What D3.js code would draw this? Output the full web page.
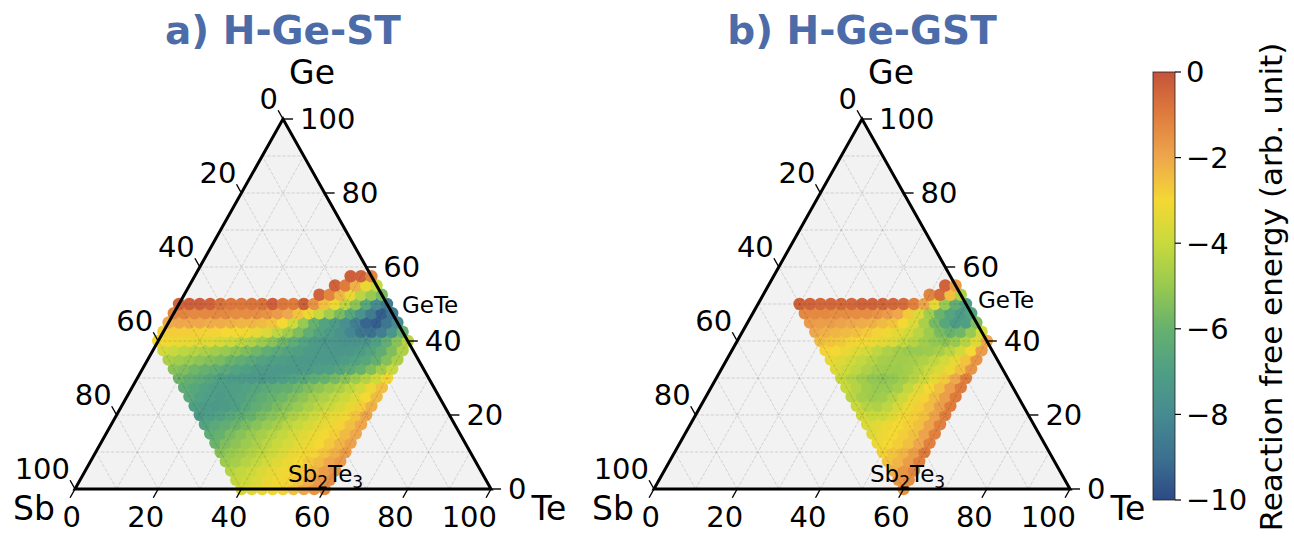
<!DOCTYPE html>
<html>
<head>
<meta charset="utf-8">
<script src="https://cdn.jsdelivr.net/npm/d3@7"></script>
<style>
  body { margin: 0; background: #fff; }
  text { font-family: "DejaVu Sans", sans-serif; }
</style>
</head>
<body>
<svg id="chart" width="1294" height="539"></svg>
<script>
// ---- axis ticks and colour map ----
const tickValues = [0, 20, 40, 60, 80, 100];
const gridValues = [10, 20, 30, 40, 50, 60, 70, 80, 90];
const cbarTicks = [0, -2, -4, -6, -8, -10];
const cmapStops = [0, -1, -2, -3, -4, -5, -6, -7, -8, -9, -10];
const cmapColors = ["#c5533b", "#df7c3d", "#eea74c", "#f4d833", "#c8d93d", "#98c950",
                    "#66b16e", "#4f9f85", "#468b91", "#3c7190", "#2c4a86"];

// ---- panel a) H-Ge-ST : one row per Ge level, Te starts at teStartA and steps by 2.5 ----
const geA = [0, 2.5, 5, 7.5, 10, 12.5, 15, 17.5, 20, 22.5, 25, 27.5, 30, 32.5, 35, 37.5, 40, 42.5, 45, 47.5, 50, 52.5, 55, 57.5];
const teStartA = [40, 37.5, 35, 32.5, 30, 27.5, 25, 22.5, 20, 17.5, 15, 12.5, 10, 7.5, 5, 2.5, 0, 0, 0, 0, 0, 32.5, 35, 37.5];
const energyA = [
  [-3.7,-3.5,-3.3,-3.1,-2.9,-2.5,-2.0,-1.6,-1.3],
  [-4.1,-3.9,-3.6,-3.3,-3.1,-2.9,-2.6,-2.1,-1.7,-1.4],
  [-4.4,-4.1,-3.9,-3.6,-3.3,-3.1,-2.9,-2.6,-2.2,-1.8,-1.5],
  [-4.9,-4.7,-4.4,-4.1,-3.8,-3.5,-3.2,-3.0,-2.7,-2.4,-2.0,-1.7],
  [-5.3,-5.0,-4.8,-4.5,-4.2,-3.9,-3.6,-3.3,-3.1,-2.9,-2.6,-2.2,-1.8],
  [-5.9,-5.5,-5.2,-4.9,-4.6,-4.3,-4.0,-3.7,-3.4,-3.2,-3.0,-2.7,-2.3,-1.9],
  [-6.3,-6.0,-5.6,-5.3,-5.0,-4.7,-4.4,-4.1,-3.8,-3.5,-3.2,-3.0,-2.8,-2.4,-2.0],
  [-6.8,-6.5,-6.2,-5.9,-5.6,-5.3,-5.0,-4.7,-4.3,-4.0,-3.7,-3.4,-3.2,-2.9,-2.5,-2.0],
  [-7.2,-7.1,-6.9,-6.6,-6.3,-6.0,-5.6,-5.3,-5.0,-4.6,-4.3,-3.9,-3.6,-3.3,-3.1,-2.6,-2.0],
  [-7.0,-7.2,-7.3,-7.2,-7.0,-6.6,-6.2,-5.9,-5.6,-5.3,-5.0,-4.6,-4.3,-4.0,-3.7,-3.3,-2.8,-2.2],
  [-6.5,-6.9,-7.1,-7.2,-7.1,-6.9,-6.6,-6.3,-6.0,-5.8,-5.5,-5.2,-4.8,-4.5,-4.2,-3.9,-3.5,-3.0,-2.4],
  [-6.3,-6.6,-6.9,-7.1,-7.1,-7.0,-6.9,-6.7,-6.5,-6.3,-6.1,-5.8,-5.5,-5.2,-4.9,-4.6,-4.2,-3.8,-3.2,-2.5],
  [-5.8,-6.1,-6.4,-6.7,-7.0,-7.2,-7.3,-7.4,-7.4,-7.3,-7.1,-6.9,-6.6,-6.3,-6.0,-5.7,-5.3,-4.9,-4.4,-3.8,-3.0],
  [-5.3,-5.5,-5.8,-6.0,-6.2,-6.5,-6.8,-7.0,-7.2,-7.3,-7.3,-7.3,-7.3,-7.2,-7.1,-7.0,-6.7,-6.4,-6.0,-5.5,-4.8,-4.0],
  [-4.6,-4.8,-5.0,-5.2,-5.4,-5.6,-5.9,-6.2,-6.5,-6.8,-7.0,-7.1,-7.2,-7.3,-7.3,-7.3,-7.3,-7.1,-6.9,-6.6,-6.1,-5.4,-4.6],
  [-3.8,-4.0,-4.2,-4.4,-4.6,-4.8,-5.0,-5.2,-5.5,-5.8,-6.2,-6.5,-6.8,-7.0,-7.2,-7.3,-7.4,-7.5,-7.4,-7.2,-6.8,-6.3,-5.5,-4.5],
  [-3.0,-3.1,-3.2,-3.3,-3.4,-3.5,-3.7,-3.9,-4.2,-4.5,-4.9,-5.3,-5.8,-6.3,-6.8,-7.2,-7.4,-7.5,-7.6,-7.6,-7.5,-7.0,-6.2,-5.3,-4.3],
  [-2.8,-2.8,-2.8,-2.8,-2.9,-2.9,-3.0,-3.0,-3.1,-3.3,-3.6,-4.2,-4.8,-5.5,-6.2,-6.8,-7.2,-7.6,-8.2,-8.8,-9.0,-8.5,-7.5,-6.0],
  [-2.0,-2.0,-2.0,-2.0,-2.1,-2.1,-2.2,-2.3,-2.3,-2.4,-2.6,-3.0,-3.8,-5.0,-6.0,-6.8,-7.2,-7.8,-8.5,-9.3,-9.5,-8.8,-8.0],
  [-1.2,-1.2,-1.3,-1.3,-1.3,-1.3,-1.4,-1.4,-1.4,-1.5,-1.7,-2.0,-2.6,-3.2,-4.0,-4.8,-5.6,-6.6,-7.6,-8.6,-9.5,-8.8],
  [-0.4,-0.3,-0.3,-0.4,-0.8,-0.9,-0.9,-0.8,-0.8,-0.3,-0.9,-1.0,-0.4,-1.5,-2.5,-3.2,-4.2,-5.2,-6.6,-8.0,-8.6],
  [-0.4,-1.2,-2.3,-3.3,-4.3,-5.0,-5.6],
  [-0.4,-1.0,-2.2,-3.3,-4.0],
  [-0.3,-0.4,-1.2]
];

// ---- panel b) H-Ge-GST ----
const geB = [0, 2.5, 5, 7.5, 10, 12.5, 15, 17.5, 20, 22.5, 25, 27.5, 30, 32.5, 35, 37.5, 40, 42.5, 45, 47.5, 50, 52.5, 55];
const teStartB = [60, 57.5, 55, 52.5, 50, 47.5, 45, 42.5, 40, 37.5, 35, 32.5, 30, 27.5, 25, 22.5, 20, 17.5, 15, 12.5, 10, 40, 42.5];
const energyB = [
  [-1.5],
  [-1.6,-1.4],
  [-2.2,-1.6,-1.2],
  [-2.6,-2.3,-1.8,-1.1],
  [-2.9,-2.6,-2.3,-1.8,-1.0],
  [-3.2,-3.0,-2.8,-2.5,-2.0,-1.1],
  [-3.5,-3.2,-3.0,-2.8,-2.5,-1.9,-1.1],
  [-3.6,-3.4,-3.2,-3.0,-2.8,-2.5,-1.9,-1.1],
  [-3.8,-4.0,-3.9,-3.5,-3.1,-2.8,-2.5,-1.9,-1.1],
  [-4.0,-4.4,-4.5,-4.2,-3.7,-3.2,-2.8,-2.4,-1.8,-1.0],
  [-4.3,-4.7,-4.9,-4.8,-4.4,-3.9,-3.3,-2.9,-2.4,-1.8,-1.0],
  [-4.0,-4.4,-4.8,-5.0,-5.0,-4.7,-4.1,-3.5,-3.0,-2.5,-1.8,-1.0],
  [-4.0,-4.4,-4.8,-5.1,-5.2,-5.1,-4.8,-4.4,-3.9,-3.3,-2.7,-2.0,-1.1],
  [-3.6,-3.9,-4.2,-4.5,-4.8,-4.9,-4.9,-4.7,-4.4,-4.0,-3.6,-3.2,-2.5,-1.6],
  [-3.3,-3.5,-3.8,-4.1,-4.4,-4.7,-4.8,-4.8,-4.7,-4.5,-4.2,-3.8,-3.3,-2.6,-1.6],
  [-2.9,-3.0,-3.2,-3.5,-3.8,-4.2,-4.5,-4.8,-5.0,-5.0,-4.9,-4.7,-4.3,-3.8,-3.0,-1.8],
  [-2.5,-2.6,-2.7,-2.9,-3.0,-3.2,-3.4,-3.6,-4.0,-4.4,-4.8,-5.1,-5.2,-5.0,-4.4,-3.5,-2.0],
  [-2.0,-2.2,-2.3,-2.4,-2.5,-2.7,-2.9,-3.1,-3.4,-3.8,-4.3,-4.9,-5.6,-6.0,-5.8,-5.0,-3.8],
  [-1.7,-1.8,-1.8,-1.9,-2.0,-2.1,-2.2,-2.4,-2.6,-3.0,-3.6,-4.6,-5.7,-6.6,-7.2,-7.0,-5.5],
  [-1.3,-1.3,-1.3,-1.4,-1.4,-1.4,-1.4,-1.5,-1.7,-2.0,-2.7,-3.6,-4.8,-5.9,-6.7,-7.2,-6.8],
  [-0.4,-0.4,-0.5,-0.5,-0.6,-0.5,-0.4,-0.4,-0.5,-0.5,-0.6,-1.1,-2.0,-3.4,-5.0,-6.2,-7.0],
  [-1.2,-0.6,-2.5,-4.5],
  [-0.4,-1.8]
];
const teStep = 2.5;

const panels = [
  { title: "a) H-Ge-ST",  left: 75,  ge: geA, te0: teStartA, energy: energyA,
    geteAt: [402, 313], sbteAt: [288, 482] },
  { title: "b) H-Ge-GST", left: 654, ge: geB, te0: teStartB, energy: energyB,
    geteAt: [978, 308], sbteAt: [870, 482] }
];

const svg = d3.select("#chart");
const colorScale = d3.scaleLinear().domain(cmapStops).range(cmapColors)
  .interpolate(d3.interpolateRgb).clamp(true);

const SIDE = 416, BASE_Y = 489, APEX_Y = 119;
const TICK = 10;
// unit vectors for the slanted tick directions
const upLeft = [-208 / 424.4, -370 / 424.4];
const downLeft = [-208 / 424.4, 370 / 424.4];

function drawPanel(p) {
  const g = svg.append("g");
  const xS = d3.scaleLinear().domain([0, 100]).range([p.left, p.left + SIDE]); // Te + Ge/2
  const yS = d3.scaleLinear().domain([0, 100]).range([BASE_Y, APEX_Y]);        // Ge
  const P = (ge, te) => [xS(te + ge / 2), yS(ge)];

  const sbV = P(0, 0), teV = P(0, 100), geV = P(100, 0);

  // plot area
  g.append("path").attr("d", d3.line()([sbV, teV, geV]) + "Z").attr("fill", "#f2f2f2");

  // scatter of compositions coloured by reaction free energy
  const pts = [];
  p.ge.forEach((ge, i) => p.energy[i].forEach((e, j) => pts.push({ ge, te: p.te0[i] + teStep * j, e })));
  g.append("g").selectAll("circle").data(pts).join("circle")
    .attr("cx", d => P(d.ge, d.te)[0])
    .attr("cy", d => P(d.ge, d.te)[1])
    .attr("r", 6.2)
    .attr("fill", d => colorScale(d.e));

  // dashed grid
  const grid = g.append("g").attr("stroke", "rgba(0,0,0,0.17)").attr("stroke-width", 0.8)
    .attr("stroke-dasharray", "3.5,1.5").attr("fill", "none");
  gridValues.forEach(v => {
    grid.append("path").attr("d", d3.line()([P(v, 0), P(v, 100 - v)]));
    grid.append("path").attr("d", d3.line()([P(0, v), P(100 - v, v)]));
    grid.append("path").attr("d", d3.line()([P(0, 100 - v), P(100 - v, 0)]));
  });

  // frame
  g.append("path").attr("d", d3.line()([sbV, teV, geV]) + "Z")
    .attr("fill", "none").attr("stroke", "#000").attr("stroke-width", 3)
    .attr("stroke-linejoin", "miter");

  const ticks = g.append("g").attr("stroke", "#000").attr("stroke-width", 1.4);
  const labels = g.append("g").attr("font-size", 29).attr("fill", "#000");

  tickValues.forEach(v => {
    // Ge axis: right edge, horizontal ticks
    const a = P(v, 100 - v);
    ticks.append("line").attr("x1", a[0]).attr("y1", a[1]).attr("x2", a[0] + TICK).attr("y2", a[1]);
    labels.append("text").attr("x", a[0] + 17).attr("y", a[1]).attr("dy", "0.36em")
      .attr("text-anchor", "start").text(v);
    // Sb axis: left edge, ticks running up-left
    const b = P(100 - v, 0);
    ticks.append("line").attr("x1", b[0]).attr("y1", b[1])
      .attr("x2", b[0] + TICK * upLeft[0]).attr("y2", b[1] + TICK * upLeft[1]);
    labels.append("text").attr("x", b[0] - 5).attr("y", b[1] - 20).attr("dy", "0.36em")
      .attr("text-anchor", "end").text(v);
    // Te axis: bottom edge, ticks running down-left
    const c = P(0, v);
    ticks.append("line").attr("x1", c[0]).attr("y1", c[1])
      .attr("x2", c[0] + TICK * downLeft[0]).attr("y2", c[1] + TICK * downLeft[1]);
    labels.append("text").attr("x", c[0] + 6).attr("y", c[1] + 28).attr("dy", "0.36em")
      .attr("text-anchor", "end").text(v);
  });

  // corner element labels
  const corners = g.append("g").attr("font-size", 33).attr("text-anchor", "middle");
  corners.append("text").attr("x", geV[0] + 29).attr("y", geV[1] - 47).attr("dy", "0.36em").text("Ge");
  corners.append("text").attr("x", sbV[0] - 41).attr("y", sbV[1] + 19).attr("dy", "0.36em").text("Sb");
  corners.append("text").attr("x", teV[0] + 58).attr("y", teV[1] + 19).attr("dy", "0.36em").text("Te");

  // compound annotations
  g.append("text").attr("x", p.geteAt[0]).attr("y", p.geteAt[1]).attr("font-size", 23).text("GeTe");
  const s = g.append("text").attr("x", p.sbteAt[0]).attr("y", p.sbteAt[1]).attr("font-size", 23);
  s.append("tspan").text("Sb");
  s.append("tspan").attr("dy", 6).attr("font-size", 17).text("2");
  s.append("tspan").attr("dy", -6).text("Te");
  s.append("tspan").attr("dy", 6).attr("font-size", 17).text("3");

  // panel title
  g.append("text").attr("x", geV[0]).attr("y", 30).attr("dy", "0.36em")
    .attr("text-anchor", "middle").attr("font-size", 39).attr("font-weight", "bold")
    .attr("fill", "#4b6ca8").text(p.title);
}

panels.forEach(drawPanel);

// ---- colour bar ----
const cbX = 1153, cbW = 22;
const cbY = d3.scaleLinear().domain([0, -10]).range([72, 500]);
const grad = svg.append("defs").append("linearGradient").attr("id", "cbar")
  .attr("x1", 0).attr("y1", 0).attr("x2", 0).attr("y2", 1);
cmapStops.forEach((v, i) => grad.append("stop")
  .attr("offset", (cbY(v) - cbY(0)) / (cbY(-10) - cbY(0)))
  .attr("stop-color", cmapColors[i]));
svg.append("rect").attr("x", cbX).attr("y", cbY(0)).attr("width", cbW)
  .attr("height", cbY(-10) - cbY(0)).attr("fill", "url(#cbar)")
  .attr("stroke", "#222").attr("stroke-width", 0.8);
const cbAxis = svg.append("g");
cbarTicks.forEach(v => {
  cbAxis.append("line").attr("x1", cbX + cbW).attr("x2", cbX + cbW + 6)
    .attr("y1", cbY(v)).attr("y2", cbY(v)).attr("stroke", "#000").attr("stroke-width", 1.2);
  cbAxis.append("text").attr("x", cbX + cbW + 11).attr("y", cbY(v)).attr("dy", "0.36em")
    .attr("font-size", 29).text(v === 0 ? "0" : "\u2212" + Math.abs(v));
});
svg.append("text").attr("transform", "translate(1282,287) rotate(-90)")
  .attr("text-anchor", "middle").attr("font-size", 31)
  .text("Reaction free energy (arb. unit)");
</script>
</body>
</html>
